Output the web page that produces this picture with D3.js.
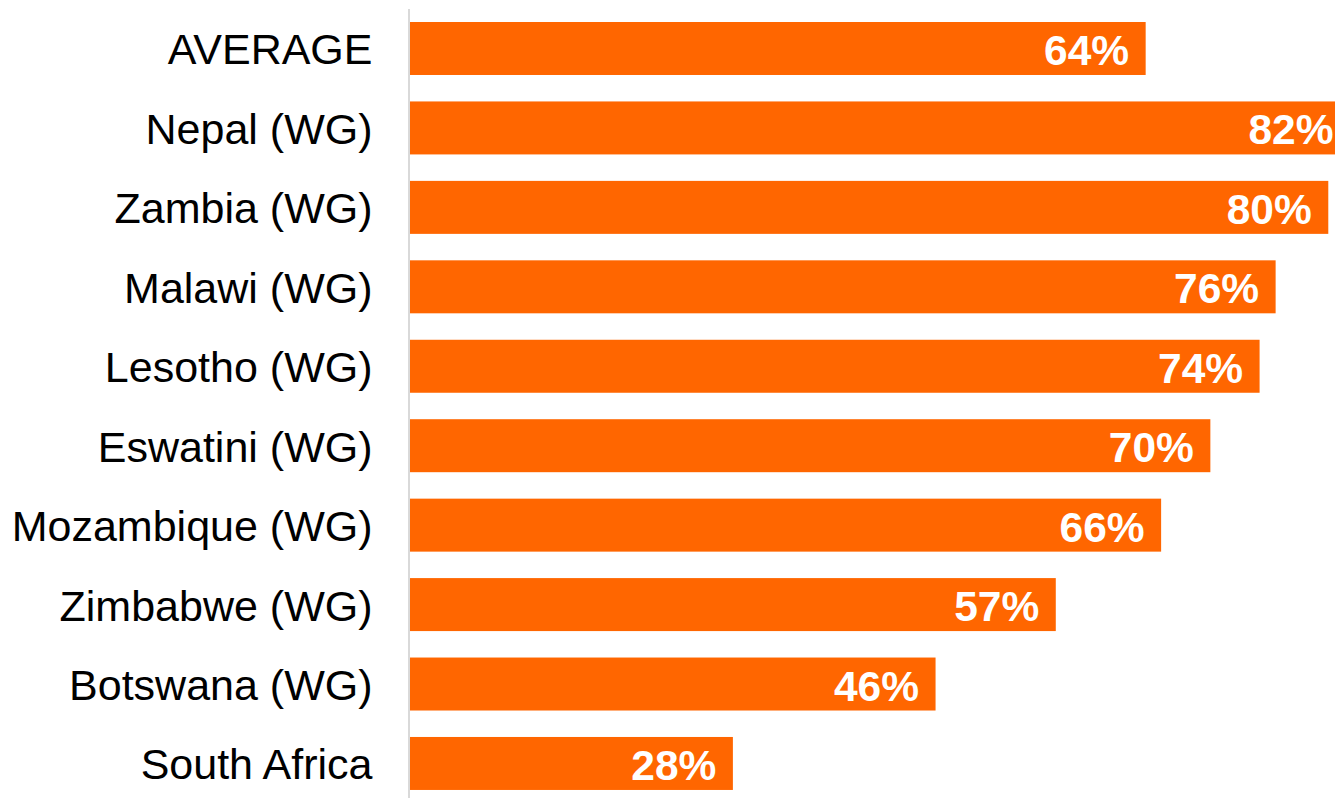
<!DOCTYPE html>
<html>
<head>
<meta charset="utf-8">
<script src="https://cdn.jsdelivr.net/npm/d3@7"></script>
<style>
  html, body { margin: 0; padding: 0; background: #ffffff; }
  svg { display: block; }
</style>
</head>
<body>
<svg id="chart" width="1335" height="798"></svg>
<script>
const categories = ["AVERAGE", "Nepal (WG)", "Zambia (WG)", "Malawi (WG)", "Lesotho (WG)", "Eswatini (WG)", "Mozambique (WG)", "Zimbabwe (WG)", "Botswana (WG)", "South Africa"];
const values = [64.25, 82.1, 80.2, 75.6, 74.2, 69.9, 65.6, 56.4, 45.9, 28.2];
const valueLabels = ["64%", "82%", "80%", "76%", "74%", "70%", "66%", "57%", "46%", "28%"];

const svg = d3.select("#chart");
const W = 1335, H = 798;
const x0 = 410;

const x = d3.scaleLinear().domain([0, 100]).range([x0, x0 + 1145]);
const y = d3.scaleBand().domain(categories).range([8.76, 803.2])
  .paddingInner(0.333).paddingOuter(0.1667);

const barColor = "#FF6600";

svg.append("g").selectAll("rect")
  .data(categories)
  .join("rect")
  .attr("x", x(0))
  .attr("y", d => y(d))
  .attr("width", (d, i) => x(values[i]) - x(0))
  .attr("height", y.bandwidth())
  .attr("fill", barColor);

// axis line
svg.append("line")
  .attr("x1", x0 - 1).attr("x2", x0 - 1)
  .attr("y1", 9).attr("y2", H)
  .attr("stroke", "#d9d9d9").attr("stroke-width", 2);

// category labels
svg.append("g").selectAll("text")
  .data(categories)
  .join("text")
  .attr("x", 372.5)
  .attr("y", d => y(d) + y.bandwidth() / 2 + 16)
  .attr("text-anchor", "end")
  .attr("font-family", "'Liberation Sans', Arial, sans-serif")
  .attr("font-size", "43px")
  .attr("fill", "#000000")
  .text(d => d);

// value labels
svg.append("g").selectAll("text")
  .data(categories)
  .join("text")
  .attr("x", (d, i) => x(values[i]) - 16.5)
  .attr("y", d => y(d) + y.bandwidth() / 2 + 16.5)
  .attr("text-anchor", "end")
  .attr("font-family", "'Liberation Sans', Arial, sans-serif")
  .attr("font-weight", "bold")
  .attr("font-size", "42.5px")
  .attr("fill", "#ffffff")
  .text((d, i) => valueLabels[i]);
</script>
</body>
</html>
